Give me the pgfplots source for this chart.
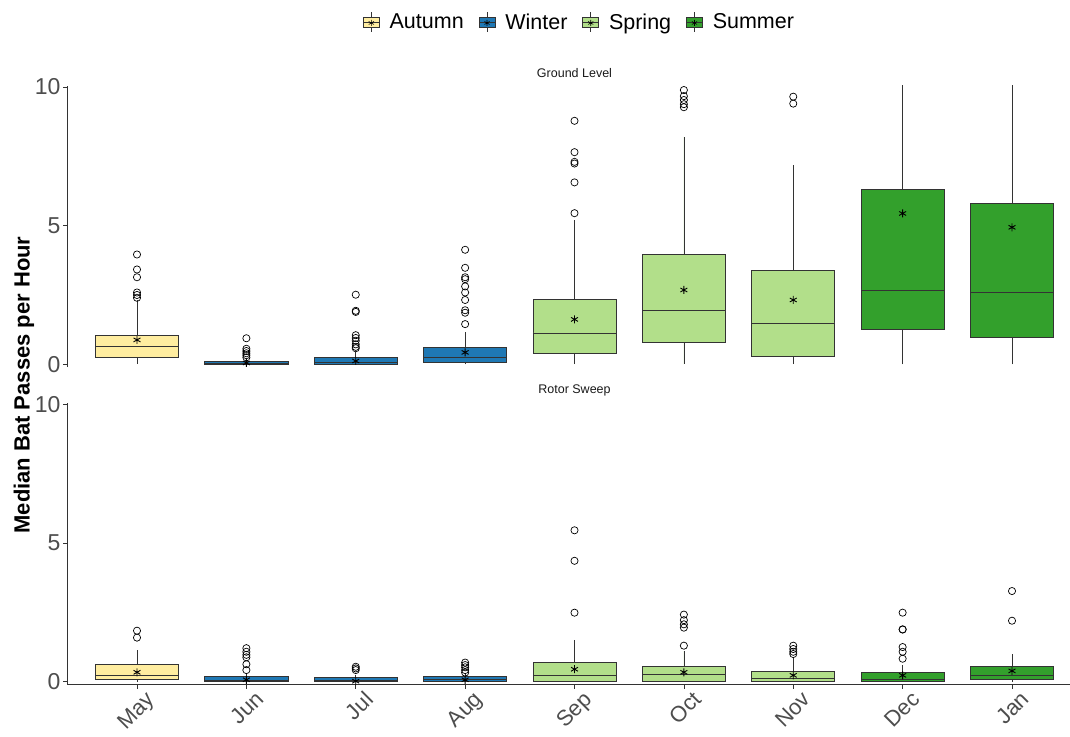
\documentclass[border=0pt]{standalone}
\usepackage{fontspec}
\setmainfont{Liberation Sans}
\usepackage{pgfplots}
\pgfplotsset{compat=1.18}
\usepgfplotslibrary{statistics}

\definecolor{cAut}{HTML}{FFEDA0}
\definecolor{cWin}{HTML}{1F78B4}
\definecolor{cSpr}{HTML}{B2DF8A}
\definecolor{cSum}{HTML}{33A02C}
\definecolor{boxline}{HTML}{333333}
\definecolor{axgray}{HTML}{333333}
\definecolor{tickgray}{HTML}{4D4D4D}

% one box: position, lower whisker, lower quartile, median, upper quartile, upper whisker, fill, outliers
\newcommand{\bx}[8]{%
  \addplot[boxplot prepared={draw position=#1, lower whisker=#2, lower quartile=#3,
      median=#4, upper quartile=#5, upper whisker=#6, box extend=0.76, whisker extend=0},
    fill=#7, draw=boxline, line width=0.7pt,
    mark=o, mark size=3.6pt, mark options={solid, draw=black, fill=none, line width=0.7pt}]
    coordinates {#8};}

\newcommand{\legbox}[1]{%
  \addlegendimage{legend image code/.code={
    \draw[boxline, line width=0.6pt] (8pt,5pt)--(8pt,10pt) (8pt,-5pt)--(8pt,-10pt);
    \draw[draw=boxline, fill=#1, line width=0.6pt] (0pt,-5pt) rectangle (16pt,5pt);
    \draw[boxline, line width=0.6pt] (0pt,0pt)--(16pt,0pt);
    \draw[black, line width=0.6pt] plot[mark=asterisk, mark size=3pt] coordinates {(8pt,-1pt)};
  }}}

\pgfplotsset{
  panel/.style={
    scale only axis, width=1003pt, height=281.5pt,
    xmin=-0.64, xmax=8.53, ymin=-0.1, ymax=10.05,
    ytick={0,5,10},
    boxplot/draw direction=y,
    tick align=outside, major tick length=4pt,
    tick style={axgray, line width=0.7pt},
    axis line style={-, axgray, line width=0.8pt},
    /pgf/number format/assume math mode=true,
    yticklabel style={tickgray, font=\fontsize{23}{25}\selectfont, xshift=1pt},
    clip mode=individual,
  },
  meanstar/.style={only marks, mark=asterisk, mark size=4pt, black, line width=0.9pt},
}

\begin{document}
\begin{tikzpicture}

% Ground level
\begin{axis}[panel, at={(67pt,368.9pt)}, anchor=south west,
    axis y line*=left, axis x line=none,
    legend columns=4,
    legend style={at={(0.511,1.226)}, anchor=center, draw=none, fill=none,
      font=\fontsize{21.5}{24}\selectfont,
      /tikz/every odd column/.append style={column sep=8pt},
      /tikz/every even column/.append style={column sep=13pt}},
    legend cell align=left]
\legbox{cAut}\addlegendentry{Autumn}
\legbox{cWin}\addlegendentry{Winter}
\legbox{cSpr}\addlegendentry{Spring}
\legbox{cSum}\addlegendentry{Summer}

\bx{0}{0}{0.24}{0.66}{1.04}{2.32}{cAut}{(0,3.96) (0,3.42) (0,3.14) (0,2.59) (0,2.50) (0,2.40)}
\bx{1}{0}{0.00}{0.03}{0.09}{0.20}{cWin}{(1,0.94) (1,0.56) (1,0.48) (1,0.40) (1,0.33) (1,0.25)}
\bx{2}{0}{0.01}{0.08}{0.24}{0.45}{cWin}{(2,2.51) (2,1.93) (2,1.89) (2,1.05) (2,0.95) (2,0.85) (2,0.72) (2,0.63) (2,0.58)}
\bx{3}{0}{0.07}{0.25}{0.61}{1.15}{cWin}{(3,4.13) (3,3.48) (3,3.14) (3,3.07) (3,2.81) (3,2.59) (3,2.32) (3,1.95) (3,1.86) (3,1.45)}
\bx{4}{0}{0.40}{1.13}{2.34}{5.20}{cSpr}{(4,8.78) (4,7.65) (4,7.30) (4,7.24) (4,6.56) (4,5.45)}
\bx{5}{0}{0.80}{1.95}{3.96}{8.20}{cSpr}{(5,9.89) (5,9.67) (5,9.53) (5,9.38) (5,9.27)}
\bx{6}{0}{0.29}{1.49}{3.40}{7.19}{cSpr}{(6,9.65) (6,9.40)}
\bx{7}{0}{1.26}{2.68}{6.32}{12.0}{cSum}{}
\bx{8}{0}{0.97}{2.59}{5.82}{12.0}{cSum}{}

\addplot[meanstar] coordinates {(0,0.88) (1,0.05) (2,0.12) (3,0.43) (4,1.62) (5,2.68) (6,2.32) (7,5.44) (8,4.94)};

\node[font=\fontsize{12.5}{14}\selectfont, text=black!90] at (rel axis cs:0.506,1.045) {Ground Level};
\end{axis}

% Rotor sweep
\begin{axis}[panel, at={(67pt,51.5pt)}, anchor=south west,
    axis x line*=bottom, axis y line*=left,
    xtick={0,...,8},
    xticklabels={May,Jun,Jul,Aug,Sep,Oct,Nov,Dec,Jan},
    xticklabel style={tickgray, font=\fontsize{22}{24}\selectfont, rotate=45, anchor=north east, xshift=8pt, yshift=-3pt}]

\bx{0}{0}{0.09}{0.24}{0.63}{1.15}{cAut}{(0,1.84) (0,1.59)}
\bx{1}{0}{0.00}{0.05}{0.19}{0.30}{cWin}{(1,1.21) (1,1.08) (1,0.97) (1,0.88) (1,0.63) (1,0.42)}
\bx{2}{0}{0.00}{0.05}{0.14}{0.24}{cWin}{(2,0.54) (2,0.48) (2,0.42)}
\bx{3}{0}{0.00}{0.10}{0.19}{0.27}{cWin}{(3,0.69) (3,0.60) (3,0.52) (3,0.42) (3,0.33)}
\bx{4}{0}{0.01}{0.22}{0.70}{1.51}{cSpr}{(4,5.46) (4,4.36) (4,2.49)}
\bx{5}{0}{0.01}{0.27}{0.56}{1.10}{cSpr}{(5,2.42) (5,2.22) (5,2.07) (5,1.95) (5,1.30)}
\bx{6}{0}{0.01}{0.12}{0.38}{0.90}{cSpr}{(6,1.30) (6,1.18) (6,1.08) (6,1.00)}
\bx{7}{0}{0.01}{0.07}{0.34}{0.60}{cSum}{(7,2.49) (7,1.89) (7,1.88) (7,1.25) (7,1.08) (7,0.83)}
\bx{8}{0}{0.09}{0.23}{0.56}{0.99}{cSum}{(8,3.27) (8,2.20)}

\addplot[meanstar] coordinates {(0,0.34) (1,0.07) (2,0.02) (3,0.07) (4,0.45) (5,0.34) (6,0.23) (7,0.23) (8,0.39)};

\node[font=\fontsize{12.5}{14}\selectfont, text=black!90] at (rel axis cs:0.506,1.046) {Rotor Sweep};
\end{axis}

\node[rotate=90, font=\bfseries\fontsize{22}{24}\selectfont] at (24pt,351pt) {Median Bat Passes per Hour};

\pgfresetboundingbox
\path[use as bounding box] (0pt,0pt) rectangle (1070pt,736pt);
\end{tikzpicture}
\end{document}
